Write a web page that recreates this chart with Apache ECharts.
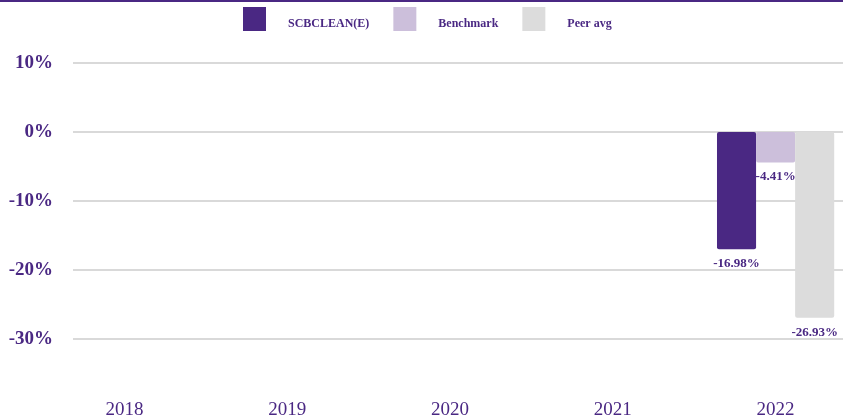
<!DOCTYPE html>
<html>
<head>
<meta charset="utf-8">
<script src="https://cdn.jsdelivr.net/npm/echarts@6/dist/echarts.min.js"></script>
<style>
  html, body { margin: 0; padding: 0; background: #ffffff; }
  #chart { width: 843px; height: 417px; border-top: 2px solid #4a2883; }
</style>
</head>
<body>
<div id="chart"></div>
<script>
// Calendar-year returns (%)
const years = ['2018', '2019', '2020', '2021', '2022'];
const fundReturns = [null, null, null, null, -16.98];
const benchmarkReturns = [null, null, null, null, -4.41];
const peerReturns = [null, null, null, null, -26.93];
const seriesNames = ['SCBCLEAN(E)', 'Benchmark', 'Peer avg'];
const yTicks = [-30, -20, -10, 0, 10];

const purple = '#4a2883';
const serif = '"Liberation Serif", "Times New Roman", serif';
const colors = [purple, '#ccbfdb', '#dcdcdc'];

const chart = echarts.init(document.getElementById('chart'), null, { renderer: 'canvas' });

const labelStyle = {
  show: true,
  position: 'bottom',
  distance: 8,
  color: purple,
  fontFamily: serif,
  fontWeight: 'bold',
  fontSize: 13,
  formatter: p => p.value == null ? '' : p.value.toFixed(2) + '%'
};

function barSeries(name, data, color) {
  return {
    name: name,
    type: 'bar',
    xAxisIndex: 1,
    yAxisIndex: 1,
    data: data,
    barGap: '0%',
    barCategoryGap: '28%',
    itemStyle: { color: color, borderRadius: 2 },
    label: labelStyle
  };
}

chart.setOption({
  animation: false,
  color: colors,
  legend: {
    left: 238,
    top: 0,
    itemWidth: 23,
    itemHeight: 24,
    itemGap: 24,
    icon: 'rect',
    data: seriesNames,
    formatter: name => '{t|' + name + '}',
    textStyle: {
      color: purple,
      fontFamily: serif,
      fontWeight: 'bold',
      fontSize: 12,
      rich: {
        t: {
          color: purple,
          fontFamily: serif,
          fontWeight: 'bold',
          fontSize: 12,
          padding: [10, 0, 0, 17]
        }
      }
    }
  },
  grid: [
    // gridlines and percent labels
    { left: 73, right: 0, top: 61, bottom: 80 },
    // bars and year labels
    { left: 43, width: 814, top: 61, bottom: 80, outerBoundsMode: 'none' }
  ],
  xAxis: [
    {
      gridIndex: 0,
      type: 'category',
      data: years,
      show: false
    },
    {
      gridIndex: 1,
      type: 'category',
      data: years,
      axisLine: { show: false, onZero: false },
      axisTick: { show: false },
      axisLabel: {
        margin: 62,
        color: purple,
        fontFamily: serif,
        fontSize: 19
      }
    }
  ],
  yAxis: [
    {
      gridIndex: 0,
      type: 'value',
      min: yTicks[0],
      max: yTicks[yTicks.length - 1],
      interval: 10,
      axisLine: { show: false },
      axisTick: { show: false },
      axisLabel: {
        margin: 20,
        color: purple,
        fontFamily: serif,
        fontWeight: 'bold',
        fontSize: 19,
        formatter: v => v + '%'
      },
      splitLine: { lineStyle: { color: '#d9d9d9', width: 2 } }
    },
    {
      gridIndex: 1,
      type: 'value',
      min: yTicks[0],
      max: yTicks[yTicks.length - 1],
      interval: 10,
      show: false,
      splitLine: { show: false }
    }
  ],
  series: [
    barSeries(seriesNames[0], fundReturns, colors[0]),
    barSeries(seriesNames[1], benchmarkReturns, colors[1]),
    barSeries(seriesNames[2], peerReturns, colors[2])
  ]
});
</script>
</body>
</html>
